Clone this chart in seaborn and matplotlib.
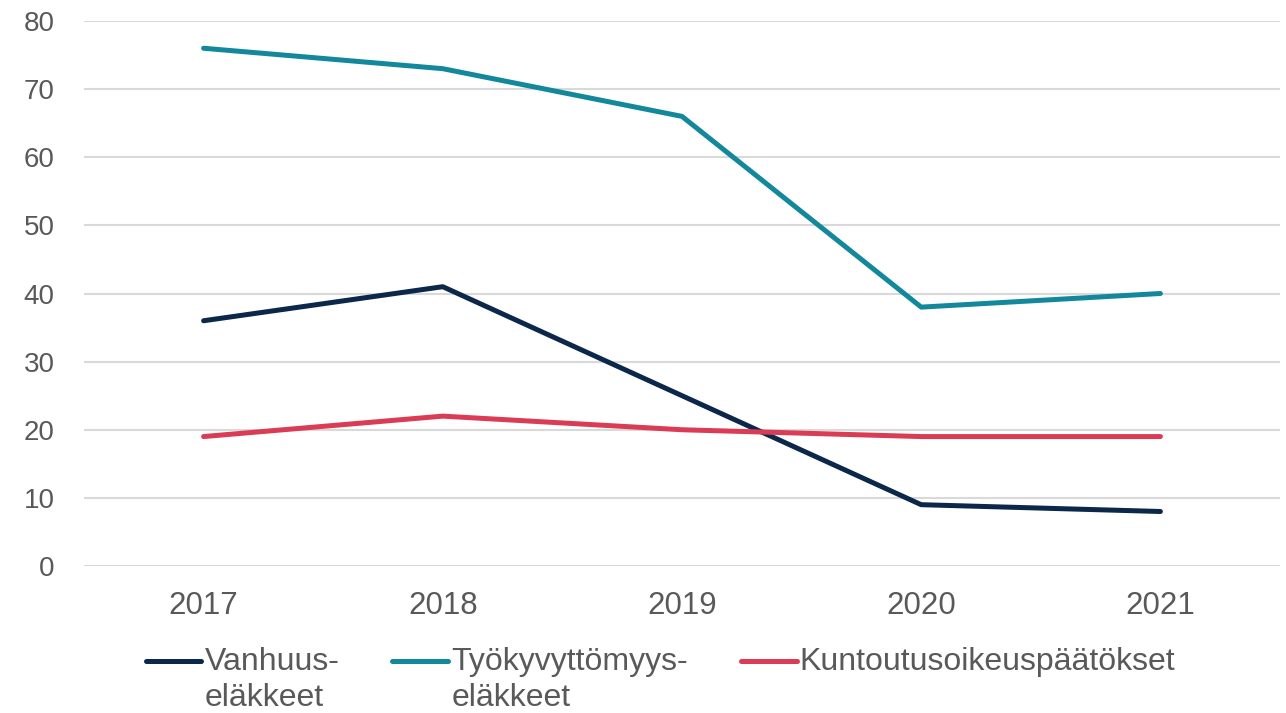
import matplotlib
matplotlib.use("Agg")
import matplotlib.pyplot as plt
import seaborn as sns
import pandas as pd
from matplotlib.legend_handler import HandlerLine2D

years = ["2017", "2018", "2019", "2020", "2021"]
vanhuus = [36, 41, 25, 9, 8]
tyokyvyttomyys = [76, 73, 66, 38, 40]
kuntoutus = [19, 22, 20, 19, 19]
series_names = ["Vanhuus-\neläkkeet", "Työkyvyttömyys-\neläkkeet", "Kuntoutusoikeuspäätökset\n "]
colors = ["#0B2749", "#13889C", "#DA3B55"]

df = pd.DataFrame({
    "year": years * 3,
    "value": vanhuus + tyokyvyttomyys + kuntoutus,
    "series": [series_names[0]] * 5 + [series_names[1]] * 5 + [series_names[2]] * 5,
})

sns.set_theme(style="white")
plt.rcParams["font.family"] = ["Liberation Sans", "DejaVu Sans"]

fig = plt.figure(figsize=(12.86, 7.13), dpi=100)
ax = fig.add_axes([84 / 1286, 1 - 566 / 713, (1280 - 84) / 1286, (566 - 21) / 713])

sns.lineplot(data=df, x="year", y="value", hue="series", palette=colors,
             linewidth=3.6, ax=ax, sort=False, legend=True)
for ln in ax.lines:
    ln.set_solid_capstyle("round")
    ln.set_solid_joinstyle("round")

ax.set_xlim(-0.5, 4.5)
ax.set_ylim(0, 80)
ax.set_yticks(range(0, 81, 10))
ax.yaxis.grid(True, color="#D9D9D9", linewidth=1.5)
ax.set_axisbelow(True)
for s in ax.spines.values():
    s.set_visible(False)
ax.set_xlabel("")
ax.set_ylabel("")
ax.tick_params(axis="both", length=0, labelcolor="#595959")
ax.tick_params(axis="y", labelsize=20, pad=21)
ax.tick_params(axis="x", labelsize=22.5, pad=18)

LEG_FS = 23
SHIFT = 14.3  # points: lift handle to first text line


class TopHandler(HandlerLine2D):
    def __init__(self, shift=0.0, **kw):
        super().__init__(**kw)
        self.shift = shift

    def create_artists(self, legend, orig_handle, xdescent, ydescent, width, height, fontsize, trans):
        arts = super().create_artists(legend, orig_handle, xdescent, ydescent, width, height, fontsize, trans)
        for a in arts:
            a.set_ydata([y + self.shift for y in a.get_ydata()])
        return arts


handles, labels = ax.get_legend_handles_labels()
hmap = {h: TopHandler(shift=SHIFT) for h in handles}
leg = ax.legend(handles, labels, loc="upper center", bbox_to_anchor=(0.482, -0.12),
                ncol=3, frameon=False, fontsize=LEG_FS, handlelength=1.75,
                handletextpad=0.1, columnspacing=1.65, labelspacing=0.0,
                labelcolor="#595959", handler_map=hmap, borderpad=0.0)
for t in leg.get_texts():
    t.set_linespacing(1.25)
for h in leg.legend_handles:
    h.set_linewidth(3.6)
    h.set_solid_capstyle("round")

fig.savefig("out.png", dpi=100)
